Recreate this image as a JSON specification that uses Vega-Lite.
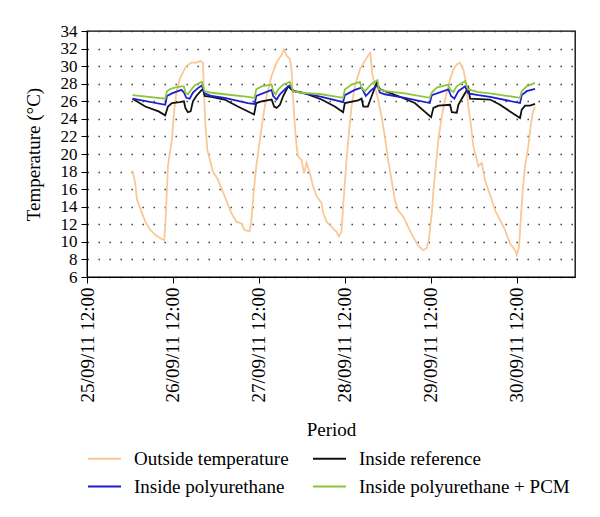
{
  "$schema": "https://vega.github.io/schema/vega-lite/v6.json",
  "width": 488,
  "height": 246,
  "autosize": "none",
  "padding": {"left": 87, "top": 31, "right": 25, "bottom": 240},
  "background": "white",
  "config": {
    "font": "'Liberation Serif', 'Times New Roman', Times, serif",
    "view": {"stroke": "#000", "strokeWidth": 1.3},
    "axis": {"labelColor": "#000", "titleColor": "#000", "domainColor": "#000", "tickColor": "#000", "titleFontWeight": "normal"},
    "legend": {"labelColor": "#000"}
  },
  "data": {"values": [
    {"t":"2011-09-26T00:43","s":"Outside temperature","v":18.1},
    {"t":"2011-09-26T01:28","s":"Outside temperature","v":16.7},
    {"t":"2011-09-26T01:57","s":"Outside temperature","v":14.8},
    {"t":"2011-09-26T03:21","s":"Outside temperature","v":13.3},
    {"t":"2011-09-26T04:16","s":"Outside temperature","v":12.3},
    {"t":"2011-09-26T05:40","s":"Outside temperature","v":11.35},
    {"t":"2011-09-26T07:03","s":"Outside temperature","v":10.8},
    {"t":"2011-09-26T08:55","s":"Outside temperature","v":10.3},
    {"t":"2011-09-26T09:34","s":"Outside temperature","v":10.2},
    {"t":"2011-09-26T09:51","s":"Outside temperature","v":11.7},
    {"t":"2011-09-26T10:19","s":"Outside temperature","v":15.9},
    {"t":"2011-09-26T10:36","s":"Outside temperature","v":18.6},
    {"t":"2011-09-26T11:03","s":"Outside temperature","v":19.9},
    {"t":"2011-09-26T11:43","s":"Outside temperature","v":21.6},
    {"t":"2011-09-26T12:00","s":"Outside temperature","v":23.2},
    {"t":"2011-09-26T12:28","s":"Outside temperature","v":25.4},
    {"t":"2011-09-26T12:57","s":"Outside temperature","v":27.0},
    {"t":"2011-09-26T13:52","s":"Outside temperature","v":28.5},
    {"t":"2011-09-26T14:47","s":"Outside temperature","v":29.3},
    {"t":"2011-09-26T15:44","s":"Outside temperature","v":30.0},
    {"t":"2011-09-26T17:08","s":"Outside temperature","v":30.4},
    {"t":"2011-09-26T18:32","s":"Outside temperature","v":30.4},
    {"t":"2011-09-26T19:44","s":"Outside temperature","v":30.6},
    {"t":"2011-09-26T20:22","s":"Outside temperature","v":30.4},
    {"t":"2011-09-26T20:39","s":"Outside temperature","v":27.3},
    {"t":"2011-09-26T21:02","s":"Outside temperature","v":23.5},
    {"t":"2011-09-26T21:36","s":"Outside temperature","v":20.5},
    {"t":"2011-09-26T22:31","s":"Outside temperature","v":19.0},
    {"t":"2011-09-26T23:10","s":"Outside temperature","v":18.0},
    {"t":"2011-09-27T00:33","s":"Outside temperature","v":17.1},
    {"t":"2011-09-27T02:25","s":"Outside temperature","v":15.2},
    {"t":"2011-09-27T04:18","s":"Outside temperature","v":13.3},
    {"t":"2011-09-27T05:41","s":"Outside temperature","v":12.3},
    {"t":"2011-09-27T07:05","s":"Outside temperature","v":12.1},
    {"t":"2011-09-27T08:00","s":"Outside temperature","v":11.35},
    {"t":"2011-09-27T09:24","s":"Outside temperature","v":11.2},
    {"t":"2011-09-27T09:52","s":"Outside temperature","v":12.3},
    {"t":"2011-09-27T10:36","s":"Outside temperature","v":15.9},
    {"t":"2011-09-27T11:16","s":"Outside temperature","v":18.6},
    {"t":"2011-09-27T12:17","s":"Outside temperature","v":21.6},
    {"t":"2011-09-27T13:12","s":"Outside temperature","v":24.3},
    {"t":"2011-09-27T14:09","s":"Outside temperature","v":26.6},
    {"t":"2011-09-27T15:33","s":"Outside temperature","v":28.9},
    {"t":"2011-09-27T16:56","s":"Outside temperature","v":30.4},
    {"t":"2011-09-27T18:20","s":"Outside temperature","v":31.3},
    {"t":"2011-09-27T18:58","s":"Outside temperature","v":31.9},
    {"t":"2011-09-27T19:44","s":"Outside temperature","v":31.2},
    {"t":"2011-09-27T20:39","s":"Outside temperature","v":30.8},
    {"t":"2011-09-27T21:07","s":"Outside temperature","v":29.6},
    {"t":"2011-09-27T21:34","s":"Outside temperature","v":26.2},
    {"t":"2011-09-27T22:03","s":"Outside temperature","v":23.2},
    {"t":"2011-09-27T22:31","s":"Outside temperature","v":20.9},
    {"t":"2011-09-27T22:58","s":"Outside temperature","v":19.7},
    {"t":"2011-09-27T23:55","s":"Outside temperature","v":19.3},
    {"t":"2011-09-28T00:38","s":"Outside temperature","v":17.8},
    {"t":"2011-09-28T01:18","s":"Outside temperature","v":19.0},
    {"t":"2011-09-28T02:14","s":"Outside temperature","v":17.8},
    {"t":"2011-09-28T03:09","s":"Outside temperature","v":16.3},
    {"t":"2011-09-28T04:06","s":"Outside temperature","v":15.2},
    {"t":"2011-09-28T05:30","s":"Outside temperature","v":14.4},
    {"t":"2011-09-28T05:56","s":"Outside temperature","v":13.3},
    {"t":"2011-09-28T06:53","s":"Outside temperature","v":12.3},
    {"t":"2011-09-28T08:17","s":"Outside temperature","v":11.7},
    {"t":"2011-09-28T09:41","s":"Outside temperature","v":11.15},
    {"t":"2011-09-28T10:19","s":"Outside temperature","v":10.6},
    {"t":"2011-09-28T11:04","s":"Outside temperature","v":11.15},
    {"t":"2011-09-28T11:31","s":"Outside temperature","v":14.0},
    {"t":"2011-09-28T12:00","s":"Outside temperature","v":16.7},
    {"t":"2011-09-28T12:28","s":"Outside temperature","v":19.3},
    {"t":"2011-09-28T13:07","s":"Outside temperature","v":22.4},
    {"t":"2011-09-28T13:52","s":"Outside temperature","v":25.4},
    {"t":"2011-09-28T14:47","s":"Outside temperature","v":27.7},
    {"t":"2011-09-28T16:11","s":"Outside temperature","v":29.6},
    {"t":"2011-09-28T17:35","s":"Outside temperature","v":30.6},
    {"t":"2011-09-28T18:30","s":"Outside temperature","v":31.2},
    {"t":"2011-09-28T19:07","s":"Outside temperature","v":31.5},
    {"t":"2011-09-28T19:37","s":"Outside temperature","v":29.3},
    {"t":"2011-09-28T20:22","s":"Outside temperature","v":27.7},
    {"t":"2011-09-28T21:17","s":"Outside temperature","v":26.2},
    {"t":"2011-09-28T22:14","s":"Outside temperature","v":24.3},
    {"t":"2011-09-28T23:10","s":"Outside temperature","v":22.0},
    {"t":"2011-09-29T00:05","s":"Outside temperature","v":19.3},
    {"t":"2011-09-29T01:02","s":"Outside temperature","v":17.1},
    {"t":"2011-09-29T01:57","s":"Outside temperature","v":14.8},
    {"t":"2011-09-29T02:52","s":"Outside temperature","v":13.6},
    {"t":"2011-09-29T04:16","s":"Outside temperature","v":12.9},
    {"t":"2011-09-29T05:40","s":"Outside temperature","v":11.7},
    {"t":"2011-09-29T07:03","s":"Outside temperature","v":10.6},
    {"t":"2011-09-29T08:27","s":"Outside temperature","v":9.6},
    {"t":"2011-09-29T09:51","s":"Outside temperature","v":9.05},
    {"t":"2011-09-29T10:48","s":"Outside temperature","v":9.25},
    {"t":"2011-09-29T11:26","s":"Outside temperature","v":10.2},
    {"t":"2011-09-29T12:17","s":"Outside temperature","v":13.3},
    {"t":"2011-09-29T12:44","s":"Outside temperature","v":15.9},
    {"t":"2011-09-29T13:24","s":"Outside temperature","v":18.6},
    {"t":"2011-09-29T14:07","s":"Outside temperature","v":21.6},
    {"t":"2011-09-29T15:04","s":"Outside temperature","v":24.3},
    {"t":"2011-09-29T15:59","s":"Outside temperature","v":26.2},
    {"t":"2011-09-29T17:23","s":"Outside temperature","v":28.5},
    {"t":"2011-09-29T18:18","s":"Outside temperature","v":29.6},
    {"t":"2011-09-29T19:15","s":"Outside temperature","v":30.2},
    {"t":"2011-09-29T20:10","s":"Outside temperature","v":30.4},
    {"t":"2011-09-29T21:06","s":"Outside temperature","v":29.6},
    {"t":"2011-09-29T21:51","s":"Outside temperature","v":28.1},
    {"t":"2011-09-29T22:29","s":"Outside temperature","v":25.4},
    {"t":"2011-09-29T23:15","s":"Outside temperature","v":23.2},
    {"t":"2011-09-29T23:53","s":"Outside temperature","v":20.9},
    {"t":"2011-09-30T01:17","s":"Outside temperature","v":18.6},
    {"t":"2011-09-30T02:14","s":"Outside temperature","v":19.0},
    {"t":"2011-09-30T03:09","s":"Outside temperature","v":17.0},
    {"t":"2011-09-30T04:04","s":"Outside temperature","v":15.9},
    {"t":"2011-09-30T05:01","s":"Outside temperature","v":14.8},
    {"t":"2011-09-30T05:56","s":"Outside temperature","v":13.6},
    {"t":"2011-09-30T07:20","s":"Outside temperature","v":12.5},
    {"t":"2011-09-30T08:44","s":"Outside temperature","v":11.35},
    {"t":"2011-09-30T10:07","s":"Outside temperature","v":9.8},
    {"t":"2011-09-30T11:31","s":"Outside temperature","v":9.05},
    {"t":"2011-09-30T12:00","s":"Outside temperature","v":8.5},
    {"t":"2011-09-30T12:38","s":"Outside temperature","v":9.4},
    {"t":"2011-09-30T13:07","s":"Outside temperature","v":12.5},
    {"t":"2011-09-30T13:40","s":"Outside temperature","v":15.9},
    {"t":"2011-09-30T14:19","s":"Outside temperature","v":18.6},
    {"t":"2011-09-30T15:14","s":"Outside temperature","v":20.9},
    {"t":"2011-09-30T15:54","s":"Outside temperature","v":23.2},
    {"t":"2011-09-30T16:28","s":"Outside temperature","v":24.7},
    {"t":"2011-09-30T17:06","s":"Outside temperature","v":25.4},

    {"t":"2011-09-26T00:43","s":"Inside reference","v":26.3},
    {"t":"2011-09-26T04:16","s":"Inside reference","v":25.4},
    {"t":"2011-09-26T07:59","s":"Inside reference","v":24.85},
    {"t":"2011-09-26T09:51","s":"Inside reference","v":24.4},
    {"t":"2011-09-26T10:36","s":"Inside reference","v":25.4},
    {"t":"2011-09-26T11:43","s":"Inside reference","v":25.8},
    {"t":"2011-09-26T13:52","s":"Inside reference","v":25.9},
    {"t":"2011-09-26T15:04","s":"Inside reference","v":26.0},
    {"t":"2011-09-26T15:28","s":"Inside reference","v":25.25},
    {"t":"2011-09-26T16:11","s":"Inside reference","v":24.75},
    {"t":"2011-09-26T16:56","s":"Inside reference","v":24.85},
    {"t":"2011-09-26T17:35","s":"Inside reference","v":26.0},
    {"t":"2011-09-26T18:32","s":"Inside reference","v":26.6},
    {"t":"2011-09-26T19:44","s":"Inside reference","v":27.15},
    {"t":"2011-09-26T20:22","s":"Inside reference","v":27.4},
    {"t":"2011-09-26T20:51","s":"Inside reference","v":26.6},
    {"t":"2011-09-26T22:43","s":"Inside reference","v":26.5},
    {"t":"2011-09-27T02:25","s":"Inside reference","v":26.2},
    {"t":"2011-09-27T06:08","s":"Inside reference","v":25.4},
    {"t":"2011-09-27T09:24","s":"Inside reference","v":24.75},
    {"t":"2011-09-27T10:39","s":"Inside reference","v":24.5},
    {"t":"2011-09-27T11:16","s":"Inside reference","v":25.8},
    {"t":"2011-09-27T12:45","s":"Inside reference","v":26.0},
    {"t":"2011-09-27T15:33","s":"Inside reference","v":26.2},
    {"t":"2011-09-27T16:16","s":"Inside reference","v":25.4},
    {"t":"2011-09-27T16:56","s":"Inside reference","v":25.25},
    {"t":"2011-09-27T17:52","s":"Inside reference","v":25.6},
    {"t":"2011-09-27T18:47","s":"Inside reference","v":26.6},
    {"t":"2011-09-27T20:10","s":"Inside reference","v":27.7},
    {"t":"2011-09-27T21:07","s":"Inside reference","v":27.35},
    {"t":"2011-09-27T22:03","s":"Inside reference","v":27.15},
    {"t":"2011-09-28T00:22","s":"Inside reference","v":26.97},
    {"t":"2011-09-28T05:30","s":"Inside reference","v":26.2},
    {"t":"2011-09-28T09:12","s":"Inside reference","v":25.4},
    {"t":"2011-09-28T11:31","s":"Inside reference","v":24.75},
    {"t":"2011-09-28T12:00","s":"Inside reference","v":25.8},
    {"t":"2011-09-28T15:43","s":"Inside reference","v":26.1},
    {"t":"2011-09-28T16:40","s":"Inside reference","v":26.3},
    {"t":"2011-09-28T17:10","s":"Inside reference","v":25.4},
    {"t":"2011-09-28T18:25","s":"Inside reference","v":25.4},
    {"t":"2011-09-28T18:58","s":"Inside reference","v":26.0},
    {"t":"2011-09-28T20:51","s":"Inside reference","v":28.1},
    {"t":"2011-09-28T21:46","s":"Inside reference","v":27.4},
    {"t":"2011-09-28T23:10","s":"Inside reference","v":27.15},
    {"t":"2011-09-29T02:52","s":"Inside reference","v":26.6},
    {"t":"2011-09-29T07:32","s":"Inside reference","v":25.8},
    {"t":"2011-09-29T12:05","s":"Inside reference","v":24.2},
    {"t":"2011-09-29T12:44","s":"Inside reference","v":25.25},
    {"t":"2011-09-29T14:07","s":"Inside reference","v":25.5},
    {"t":"2011-09-29T17:23","s":"Inside reference","v":25.6},
    {"t":"2011-09-29T17:52","s":"Inside reference","v":24.75},
    {"t":"2011-09-29T19:15","s":"Inside reference","v":24.7},
    {"t":"2011-09-29T19:42","s":"Inside reference","v":25.6},
    {"t":"2011-09-29T21:06","s":"Inside reference","v":26.6},
    {"t":"2011-09-29T22:29","s":"Inside reference","v":27.55},
    {"t":"2011-09-29T22:58","s":"Inside reference","v":26.3},
    {"t":"2011-09-30T04:33","s":"Inside reference","v":26.2},
    {"t":"2011-09-30T07:20","s":"Inside reference","v":25.6},
    {"t":"2011-09-30T10:07","s":"Inside reference","v":24.85},
    {"t":"2011-09-30T12:55","s":"Inside reference","v":24.1},
    {"t":"2011-09-30T13:24","s":"Inside reference","v":25.05},
    {"t":"2011-09-30T14:19","s":"Inside reference","v":25.5},
    {"t":"2011-09-30T15:43","s":"Inside reference","v":25.5},
    {"t":"2011-09-30T17:06","s":"Inside reference","v":25.7},

    {"t":"2011-09-26T00:43","s":"Inside polyurethane","v":26.3},
    {"t":"2011-09-26T09:51","s":"Inside polyurethane","v":25.6},
    {"t":"2011-09-26T10:19","s":"Inside polyurethane","v":26.6},
    {"t":"2011-09-26T11:43","s":"Inside polyurethane","v":26.9},
    {"t":"2011-09-26T14:21","s":"Inside polyurethane","v":27.3},
    {"t":"2011-09-26T15:04","s":"Inside polyurethane","v":27.0},
    {"t":"2011-09-26T15:44","s":"Inside polyurethane","v":26.4},
    {"t":"2011-09-26T16:40","s":"Inside polyurethane","v":26.3},
    {"t":"2011-09-26T17:35","s":"Inside polyurethane","v":27.0},
    {"t":"2011-09-26T18:58","s":"Inside polyurethane","v":27.5},
    {"t":"2011-09-26T20:05","s":"Inside polyurethane","v":27.8},
    {"t":"2011-09-26T20:51","s":"Inside polyurethane","v":26.9},
    {"t":"2011-09-26T22:43","s":"Inside polyurethane","v":26.6},
    {"t":"2011-09-27T02:25","s":"Inside polyurethane","v":26.4},
    {"t":"2011-09-27T08:55","s":"Inside polyurethane","v":25.8},
    {"t":"2011-09-27T10:48","s":"Inside polyurethane","v":25.7},
    {"t":"2011-09-27T11:16","s":"Inside polyurethane","v":26.6},
    {"t":"2011-09-27T15:33","s":"Inside polyurethane","v":27.3},
    {"t":"2011-09-27T15:59","s":"Inside polyurethane","v":26.6},
    {"t":"2011-09-27T16:56","s":"Inside polyurethane","v":26.2},
    {"t":"2011-09-27T17:52","s":"Inside polyurethane","v":26.8},
    {"t":"2011-09-27T19:44","s":"Inside polyurethane","v":27.55},
    {"t":"2011-09-27T20:39","s":"Inside polyurethane","v":27.8},
    {"t":"2011-09-27T21:34","s":"Inside polyurethane","v":27.15},
    {"t":"2011-09-27T23:55","s":"Inside polyurethane","v":26.97},
    {"t":"2011-09-28T05:30","s":"Inside polyurethane","v":26.5},
    {"t":"2011-09-28T11:31","s":"Inside polyurethane","v":25.9},
    {"t":"2011-09-28T12:00","s":"Inside polyurethane","v":26.7},
    {"t":"2011-09-28T14:47","s":"Inside polyurethane","v":27.3},
    {"t":"2011-09-28T16:40","s":"Inside polyurethane","v":27.55},
    {"t":"2011-09-28T17:23","s":"Inside polyurethane","v":27.0},
    {"t":"2011-09-28T17:52","s":"Inside polyurethane","v":26.6},
    {"t":"2011-09-28T19:27","s":"Inside polyurethane","v":27.3},
    {"t":"2011-09-28T21:07","s":"Inside polyurethane","v":27.8},
    {"t":"2011-09-28T21:46","s":"Inside polyurethane","v":27.0},
    {"t":"2011-09-28T23:10","s":"Inside polyurethane","v":26.8},
    {"t":"2011-09-29T04:44","s":"Inside polyurethane","v":26.4},
    {"t":"2011-09-29T11:43","s":"Inside polyurethane","v":25.8},
    {"t":"2011-09-29T12:17","s":"Inside polyurethane","v":26.7},
    {"t":"2011-09-29T16:55","s":"Inside polyurethane","v":27.35},
    {"t":"2011-09-29T17:40","s":"Inside polyurethane","v":26.6},
    {"t":"2011-09-29T18:35","s":"Inside polyurethane","v":26.3},
    {"t":"2011-09-29T19:42","s":"Inside polyurethane","v":27.15},
    {"t":"2011-09-29T21:34","s":"Inside polyurethane","v":27.7},
    {"t":"2011-09-29T22:29","s":"Inside polyurethane","v":26.9},
    {"t":"2011-09-30T01:17","s":"Inside polyurethane","v":26.7},
    {"t":"2011-09-30T04:33","s":"Inside polyurethane","v":26.5},
    {"t":"2011-09-30T12:55","s":"Inside polyurethane","v":25.8},
    {"t":"2011-09-30T13:24","s":"Inside polyurethane","v":26.7},
    {"t":"2011-09-30T14:47","s":"Inside polyurethane","v":27.15},
    {"t":"2011-09-30T17:06","s":"Inside polyurethane","v":27.4},

    {"t":"2011-09-26T00:43","s":"Inside polyurethane + PCM","v":26.7},
    {"t":"2011-09-26T09:51","s":"Inside polyurethane + PCM","v":26.3},
    {"t":"2011-09-26T10:19","s":"Inside polyurethane + PCM","v":27.15},
    {"t":"2011-09-26T11:14","s":"Inside polyurethane + PCM","v":27.4},
    {"t":"2011-09-26T12:28","s":"Inside polyurethane + PCM","v":27.55},
    {"t":"2011-09-26T14:21","s":"Inside polyurethane + PCM","v":27.7},
    {"t":"2011-09-26T15:04","s":"Inside polyurethane + PCM","v":27.7},
    {"t":"2011-09-26T15:28","s":"Inside polyurethane + PCM","v":27.0},
    {"t":"2011-09-26T16:11","s":"Inside polyurethane + PCM","v":26.8},
    {"t":"2011-09-26T17:08","s":"Inside polyurethane + PCM","v":27.35},
    {"t":"2011-09-26T18:03","s":"Inside polyurethane + PCM","v":27.8},
    {"t":"2011-09-26T19:27","s":"Inside polyurethane + PCM","v":28.1},
    {"t":"2011-09-26T20:05","s":"Inside polyurethane + PCM","v":28.2},
    {"t":"2011-09-26T20:51","s":"Inside polyurethane + PCM","v":27.15},
    {"t":"2011-09-26T22:43","s":"Inside polyurethane + PCM","v":26.97},
    {"t":"2011-09-27T02:25","s":"Inside polyurethane + PCM","v":26.8},
    {"t":"2011-09-27T08:55","s":"Inside polyurethane + PCM","v":26.5},
    {"t":"2011-09-27T10:48","s":"Inside polyurethane + PCM","v":26.4},
    {"t":"2011-09-27T11:16","s":"Inside polyurethane + PCM","v":27.35},
    {"t":"2011-09-27T12:45","s":"Inside polyurethane + PCM","v":27.7},
    {"t":"2011-09-27T15:33","s":"Inside polyurethane + PCM","v":27.9},
    {"t":"2011-09-27T15:59","s":"Inside polyurethane + PCM","v":27.15},
    {"t":"2011-09-27T16:40","s":"Inside polyurethane + PCM","v":26.8},
    {"t":"2011-09-27T17:23","s":"Inside polyurethane + PCM","v":27.35},
    {"t":"2011-09-27T18:47","s":"Inside polyurethane + PCM","v":27.9},
    {"t":"2011-09-27T20:39","s":"Inside polyurethane + PCM","v":28.2},
    {"t":"2011-09-27T21:34","s":"Inside polyurethane + PCM","v":27.15},
    {"t":"2011-09-27T23:55","s":"Inside polyurethane + PCM","v":26.97},
    {"t":"2011-09-28T05:30","s":"Inside polyurethane + PCM","v":26.8},
    {"t":"2011-09-28T11:31","s":"Inside polyurethane + PCM","v":26.4},
    {"t":"2011-09-28T12:00","s":"Inside polyurethane + PCM","v":27.35},
    {"t":"2011-09-28T13:52","s":"Inside polyurethane + PCM","v":27.9},
    {"t":"2011-09-28T16:11","s":"Inside polyurethane + PCM","v":28.2},
    {"t":"2011-09-28T16:40","s":"Inside polyurethane + PCM","v":27.55},
    {"t":"2011-09-28T17:35","s":"Inside polyurethane + PCM","v":27.15},
    {"t":"2011-09-28T18:30","s":"Inside polyurethane + PCM","v":27.55},
    {"t":"2011-09-28T19:27","s":"Inside polyurethane + PCM","v":28.0},
    {"t":"2011-09-28T21:07","s":"Inside polyurethane + PCM","v":28.4},
    {"t":"2011-09-28T21:29","s":"Inside polyurethane + PCM","v":27.4},
    {"t":"2011-09-28T23:10","s":"Inside polyurethane + PCM","v":27.15},
    {"t":"2011-09-29T04:44","s":"Inside polyurethane + PCM","v":26.9},
    {"t":"2011-09-29T11:43","s":"Inside polyurethane + PCM","v":26.4},
    {"t":"2011-09-29T12:17","s":"Inside polyurethane + PCM","v":27.0},
    {"t":"2011-09-29T13:40","s":"Inside polyurethane + PCM","v":27.55},
    {"t":"2011-09-29T16:55","s":"Inside polyurethane + PCM","v":27.9},
    {"t":"2011-09-29T17:23","s":"Inside polyurethane + PCM","v":27.35},
    {"t":"2011-09-29T18:18","s":"Inside polyurethane + PCM","v":27.05},
    {"t":"2011-09-29T19:15","s":"Inside polyurethane + PCM","v":27.7},
    {"t":"2011-09-29T21:34","s":"Inside polyurethane + PCM","v":28.3},
    {"t":"2011-09-29T22:29","s":"Inside polyurethane + PCM","v":27.35},
    {"t":"2011-09-30T01:17","s":"Inside polyurethane + PCM","v":27.05},
    {"t":"2011-09-30T04:33","s":"Inside polyurethane + PCM","v":26.9},
    {"t":"2011-09-30T12:55","s":"Inside polyurethane + PCM","v":26.4},
    {"t":"2011-09-30T13:24","s":"Inside polyurethane + PCM","v":27.15},
    {"t":"2011-09-30T14:47","s":"Inside polyurethane + PCM","v":27.7},
    {"t":"2011-09-30T17:06","s":"Inside polyurethane + PCM","v":28.1}
  ]},
  "mark": {"type": "line", "strokeWidth": 1.8, "clip": true},
  "encoding": {
    "x": {
      "field": "t", "type": "temporal",
      "scale": {"domain": [{"year": 2011, "month": 9, "date": 25, "hours": 12}, {"year": 2011, "month": 10, "date": 1, "hours": 4, "minutes": 16}]},
      "axis": {
        "title": "Period", "titleFont": "'Liberation Serif', 'Times New Roman', Times, serif", "titleFontSize": 19, "titleFontWeight": "normal", "titleY": 158, "titleBaseline": "alphabetic",
        "values": [
          {"year": 2011, "month": 9, "date": 25, "hours": 12},
          {"year": 2011, "month": 9, "date": 26, "hours": 12},
          {"year": 2011, "month": 9, "date": 27, "hours": 12},
          {"year": 2011, "month": 9, "date": 28, "hours": 12},
          {"year": 2011, "month": 9, "date": 29, "hours": 12},
          {"year": 2011, "month": 9, "date": 30, "hours": 12}
        ],
        "format": "%d/%m/%y  %H:%M", "labelAngle": -90, "labelFont": "'Liberation Serif', 'Times New Roman', Times, serif", "labelFontSize": 19,
        "labelPadding": 4, "tickSize": 6, "grid": false, "labelOverlap": false, "labelFlush": false
      }
    },
    "y": {
      "field": "v", "type": "quantitative",
      "scale": {"domain": [6, 34], "nice": false, "zero": false},
      "axis": {
        "title": "Temperature (°C)", "titleFont": "'Liberation Serif', 'Times New Roman', Times, serif", "titleFontSize": 19, "titleFontWeight": "normal", "titleX": -44, "titleY": 123,
        "values": [6, 8, 10, 12, 14, 16, 18, 20, 22, 24, 26, 28, 30, 32, 34],
        "labelFont": "'Liberation Serif', 'Times New Roman', Times, serif", "labelFontSize": 17, "tickSize": 6, "labelPadding": 4, "labelFlush": false, "labelOverlap": false,
        "grid": true, "gridColor": "#333", "gridWidth": 1.4, "gridDash": [1.4, 9.6]
      }
    },
    "color": {
      "field": "s", "type": "nominal",
      "scale": {
        "domain": ["Outside temperature", "Inside polyurethane", "Inside reference", "Inside polyurethane + PCM"],
        "range": ["#FAC896", "#1E1ED2", "#111111", "#8CC63C"]
      },
      "legend": {
        "title": null, "orient": "none", "legendX": 0, "legendY": 410, "columns": 2,
        "symbolType": "stroke", "symbolSize": 1089, "symbolStrokeWidth": 2,
        "labelFont": "'Liberation Serif', 'Times New Roman', Times, serif", "labelFontSize": 19, "labelOffset": 12, "columnPadding": 20, "rowPadding": -19, "padding": 0,
        "labelLimit": 400
      }
    }
  }
}
